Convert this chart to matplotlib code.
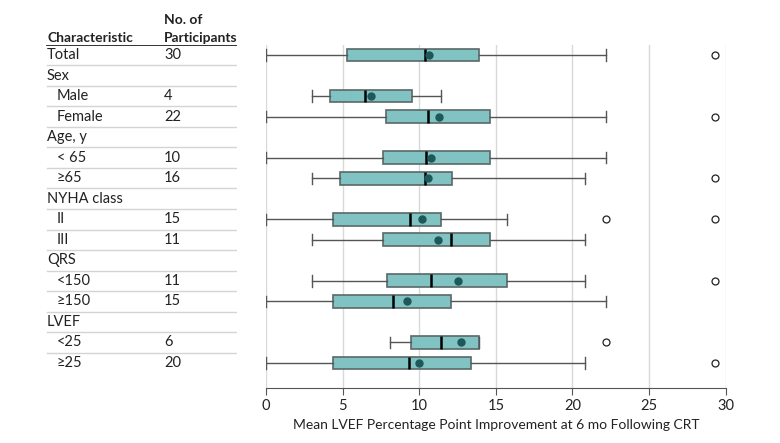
import matplotlib
matplotlib.use('Agg')
import matplotlib.pyplot as plt
from matplotlib.lines import Line2D

plt.rcParams['font.family'] = ['Lato', 'DejaVu Sans']

# table rows (label, n, indented)
row_labels = ['Total', 'Sex', 'Male', 'Female', 'Age, y', '< 65', '≥65',
              'NYHA class', 'II', 'III', 'QRS', '<150', '≥150', 'LVEF', '<25', '≥25']
row_counts = ['30', '', '4', '22', '', '10', '16', '', '15', '11', '', '11', '15', '', '6', '20']
row_indent = [False, False, True, True, False, True, True, False, True, True,
              False, True, True, False, True, True]

# box stats for rows that have data (row index -> values)
box_rows = [0, 2, 3, 5, 6, 8, 9, 11, 12, 14, 15]
whislo = [0.0, 3.0, 0.0, 0.0, 3.0, 0.0, 3.0, 3.0, 0.0, 8.1, 0.0]
q1 = [5.3, 4.15, 7.85, 7.65, 4.85, 4.4, 7.65, 7.9, 4.4, 9.45, 4.35]
med = [10.4, 6.45, 10.55, 10.45, 10.4, 9.4, 12.1, 10.8, 8.3, 11.45, 9.3]
mean = [10.65, 6.85, 11.3, 10.8, 10.55, 10.2, 11.2, 12.55, 9.2, 12.75, 10.0]
q3 = [13.9, 9.55, 14.65, 14.65, 12.15, 11.45, 14.65, 15.75, 12.1, 13.9, 13.35]
whishi = [22.2, 11.45, 22.2, 22.2, 20.8, 15.75, 20.8, 20.8, 22.2, 13.9, 20.8]
fliers = [[29.3], [], [29.3], [], [29.3], [22.2, 29.3], [], [29.3], [], [22.2], [29.3]]

stats = []
for i in range(len(box_rows)):
    stats.append({'whislo': whislo[i], 'q1': q1[i], 'med': med[i], 'mean': mean[i],
                  'q3': q3[i], 'whishi': whishi[i], 'fliers': fliers[i]})

fs = 10.5

fig = plt.figure(figsize=(7.8, 4.43), dpi=100)
W, H = 780.0, 443.0
top_px, bot_px = 45.0, 388.0
ax = fig.add_axes([266 / W, 1 - bot_px / H, (725.7 - 266) / W, (bot_px - top_px) / H])

row_h = 20.53
ylim = (15 + (bot_px - 363) / row_h, -(55 - top_px) / row_h)

ax.bxp(stats, positions=box_rows, orientation='horizontal', widths=0.62,
       patch_artist=True, showmeans=True,
       boxprops=dict(facecolor='#80c3c2', edgecolor='#5a6868', linewidth=1.2),
       medianprops=dict(color='black', linewidth=1.8),
       whiskerprops=dict(color='#555555', linewidth=1.0),
       capprops=dict(color='#555555', linewidth=1.0),
       capwidths=0.55,
       meanprops=dict(marker='o', markerfacecolor='#1e5858', markeredgecolor='#1e5858', markersize=5),
       flierprops=dict(marker='o', markerfacecolor='white', markeredgecolor='#222222',
                       markersize=5, markeredgewidth=0.9))

ax.set_xlim(0, 30)
ax.set_ylim(*ylim)
ax.set_xticks([0, 5, 10, 15, 20, 25, 30])
ax.set_yticks([])
ax.grid(axis='x', color='#d9d9d9', linewidth=1.0)
ax.set_axisbelow(True)
for s in ['top', 'right', 'left']:
    ax.spines[s].set_visible(False)
ax.spines['bottom'].set_color('#555555')
ax.tick_params(axis='x', colors='#555555', labelcolor='#222222', labelsize=fs, length=5, pad=3)
ax.set_xlabel('Mean LVEF Percentage Point Improvement at 6 mo Following CRT',
              fontsize=10, color='#222222', labelpad=4)

# table on the left, sharing the row positions
tab = fig.add_axes([45 / W, 1 - bot_px / H, (237 - 45) / W, (bot_px - top_px) / H])
tab.set_xlim(45, 237)
tab.set_ylim(*ylim)
tab.axis('off')

for i in range(len(row_labels)):
    x0 = 57 if row_indent[i] else 47
    tab.text(x0, i, row_labels[i], va='center', ha='left', fontsize=fs, color='#222222')
    tab.text(164, i, row_counts[i], va='center', ha='left', fontsize=fs, color='#222222')
    if i < len(row_labels) - 1:
        tab.add_line(Line2D([47, 237], [i + 0.5, i + 0.5], color='#d4d4d4', linewidth=1.0))

tab.add_line(Line2D([47, 237], [-0.5, -0.5], color='#222222', linewidth=1.3))
fig.text(47 / W, 1 - 38 / H, 'Characteristic', ha='left', va='center', fontsize=10,
         fontweight='bold', color='#222222')
fig.text(164 / W, 1 - 20 / H, 'No. of', ha='left', va='center', fontsize=10,
         fontweight='bold', color='#222222')
fig.text(164 / W, 1 - 38 / H, 'Participants', ha='left', va='center', fontsize=10,
         fontweight='bold', color='#222222')

fig.savefig('out.png', dpi=100)
